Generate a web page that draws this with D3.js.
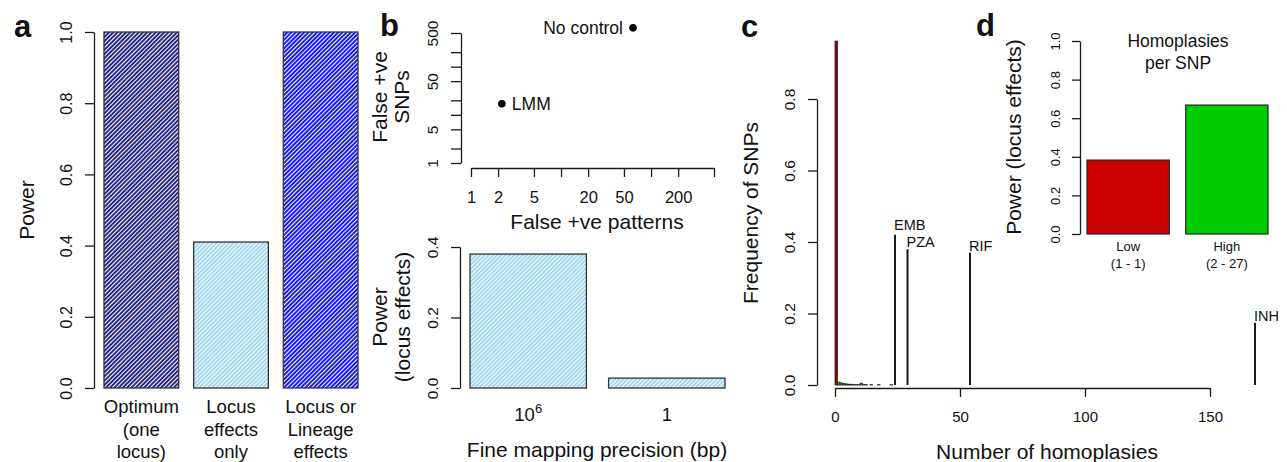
<!DOCTYPE html>
<html>
<head>
<meta charset="utf-8">
<script src="https://cdn.jsdelivr.net/npm/d3@7"></script>
<style>
body { margin:0; background:#fff; }
svg text { font-family: "Liberation Sans", Arial, sans-serif; fill:#111; }
</style>
</head>
<body>
<svg id="fig" width="1287" height="462"></svg>
<script>
// panel a
var aLabels = [["Optimum","(one","locus)"],["Locus","effects","only"],["Locus or","Lineage","effects"]];
var aPower = [1.0, 0.41, 1.0];
var aColors = ["#10107a","#87ceeb","#0000ff"];
var aTicks = [0,0.2,0.4,0.6,0.8,1.0];

// panel b (top)
var bMethods = ["No control","LMM"];
var bPatterns = [63, 2.2];
var bSnps = [640, 17];
var bLogTicks = [1,2,5,10,20,50,100,200,500];
var bXLabelled = [1,2,5,20,50,200];
var bYLabelled = [1,5,50,500];

// panel b (bottom)
var bPrecision = [["10","6"],["1",""]];
var bPower = [0.38, 0.028];
var bTicks = [0,0.2,0.4];

// panel c : frequency per bin of 1 homoplasy, starting at 0
var cBins = [0.962,0.008,0.006,0.004,0.003,0.002,0.002,0.001,0.001,0.001,0.005,0.001,0.001,0,0.001,0,0,0.001,0,0,0,0,0.001,0,0,0,0,0,0,0,0,0,0,0,0,0,0,0,0,0,0,0,0];
var cDrugs = ["EMB","PZA","RIF","INH"];
var cDrugHom = [24,29,54,168];
var cDrugFreq = [0.42,0.38,0.37,0.174];
var cXTicks = [0,50,100,150];
var cYTicks = [0,0.2,0.4,0.6,0.8];

// panel d
var dGroups = [["Low","(1 - 1)"],["High","(2 - 27)"]];
var dPower = [0.383, 0.668];
var dColors = ["#cd0000","#00cd00"];
var dTicks = [0,0.2,0.4,0.6,0.8,1.0];

var svg = d3.select("#fig");
var ink = "#1a1a1a";

var defs = svg.append("defs");
function hatch(id, color, w) {
    var p = defs.append("pattern")
        .attr("id", id)
        .attr("patternUnits", "userSpaceOnUse")
        .attr("width", 3).attr("height", 3)
        .attr("patternTransform", "rotate(45)");
    p.append("rect").attr("width", 3).attr("height", 3).attr("fill", "#fff");
    p.append("line").attr("x1", 1).attr("x2", 1).attr("y1", 0).attr("y2", 3)
        .attr("stroke", color).attr("stroke-width", w);
    return "url(#" + id + ")";
}

function styleAxis(g, fs) {
    g.attr("font-family", null).attr("font-size", null);
    g.selectAll("path, line").attr("stroke", ink).attr("stroke-width", 1.3);
    g.selectAll("text").style("font-size", fs + "px");
}
function rotateY(g, off) {
    g.selectAll(".tick text")
        .attr("transform", "rotate(-90)")
        .attr("x", 0).attr("y", -off).attr("dy", 0)
        .attr("text-anchor", "middle");
}
function vlabel(x, y, lines, fs, gap) {
    lines.forEach(function(t, i) {
        svg.append("text")
            .attr("transform", "translate(" + (x + i * gap) + "," + y + ") rotate(-90)")
            .attr("text-anchor", "middle")
            .style("font-size", fs + "px")
            .text(t);
    });
}
function letter(x, y, t) {
    svg.append("text").attr("x", x).attr("y", y)
        .style("font-size", "31px").style("font-weight", "bold").text(t);
}

// ---------- a ----------
var ay = d3.scaleLinear().domain([0, 1]).range([388, 32]);
var ax = d3.scaleBand().domain(d3.range(aPower.length)).range([104, 358]).paddingInner(1/6);

svg.selectAll(".abar")
    .data(aPower)
    .enter().append("rect")
    .attr("x", function(d, i) { return ax(i); })
    .attr("y", function(d) { return ay(d); })
    .attr("width", ax.bandwidth())
    .attr("height", function(d) { return ay(0) - ay(d); })
    .attr("fill", function(d, i) { return hatch("ha" + i, aColors[i], i == 1 ? 1.6 : 1.8); })
    .attr("stroke", "#333").attr("stroke-width", 1.3);

var gay = svg.append("g").attr("transform", "translate(94,0)")
    .call(d3.axisLeft(ay).tickValues(aTicks).tickSize(9).tickSizeOuter(0).tickFormat(d3.format(".1f")));
styleAxis(gay, 16);
rotateY(gay, 22);

aLabels.forEach(function(lines, i) {
    var t = svg.append("text").attr("text-anchor", "middle").style("font-size", "18.5px");
    lines.forEach(function(s, j) {
        t.append("tspan").attr("x", ax(i) + ax.bandwidth() / 2).attr("y", 413 + j * 22.5).text(s);
    });
});
vlabel(34, 210, ["Power"], 21, 0);
letter(14, 37, "a");

// ---------- b top ----------
var bx = d3.scaleLog().domain([1, 500]).range([471, 714]);
var by = d3.scaleLog().domain([1, 500]).range([163, 33]);

var gbx = svg.append("g").attr("transform", "translate(0,168)")
    .call(d3.axisBottom(bx).tickValues(bLogTicks).tickSize(9).tickSizeOuter(0)
        .tickFormat(function(d) { return bXLabelled.indexOf(d) >= 0 ? d : ""; }));
styleAxis(gbx, 16.5);
gbx.selectAll(".tick text").attr("y", 35).attr("dy", 0);

var gby = svg.append("g").attr("transform", "translate(461,0)")
    .call(d3.axisLeft(by).tickValues(bLogTicks).tickSize(10).tickSizeOuter(0)
        .tickFormat(function(d) { return bYLabelled.indexOf(d) >= 0 ? d : ""; }));
styleAxis(gby, 15.5);
rotateY(gby, 23);

svg.selectAll(".bpt")
    .data(bMethods)
    .enter().append("circle")
    .attr("cx", function(d, i) { return bx(bPatterns[i]); })
    .attr("cy", function(d, i) { return by(bSnps[i]); })
    .attr("r", 3.8)
    .attr("fill", "#000");

svg.selectAll(".blab")
    .data(bMethods)
    .enter().append("text")
    .attr("x", function(d, i) { return bx(bPatterns[i]) + (i == 0 ? -10 : 10); })
    .attr("y", function(d, i) { return by(bSnps[i]) + 6; })
    .attr("text-anchor", function(d, i) { return i == 0 ? "end" : "start"; })
    .style("font-size", "17.5px")
    .text(function(d) { return d; });

svg.append("text").attr("x", 597).attr("y", 229).attr("text-anchor", "middle")
    .style("font-size", "21px").text("False +ve patterns");
vlabel(387, 97, ["False +ve", "SNPs"], 21, 22);
letter(380, 36, "b");

// ---------- b bottom ----------
var by2 = d3.scaleLinear().domain([0, 0.4]).range([388, 247]);
var bx2 = d3.scaleBand().domain(d3.range(bPower.length)).range([470, 725]).paddingInner(0.16);

svg.selectAll(".bbar")
    .data(bPower)
    .enter().append("rect")
    .attr("x", function(d, i) { return bx2(i); })
    .attr("y", function(d) { return by2(d); })
    .attr("width", bx2.bandwidth())
    .attr("height", function(d) { return by2(0) - by2(d); })
    .attr("fill", hatch("hb", aColors[1], 1.6))
    .attr("stroke", "#333").attr("stroke-width", 1.3);

var gby2 = svg.append("g").attr("transform", "translate(460,0)")
    .call(d3.axisLeft(by2).tickValues(bTicks).tickSize(9).tickSizeOuter(0).tickFormat(d3.format(".1f")));
styleAxis(gby2, 15.5);
rotateY(gby2, 22);

bPrecision.forEach(function(p, i) {
    var t = svg.append("text").attr("x", bx2(i) + bx2.bandwidth() / 2).attr("y", 421)
        .attr("text-anchor", "middle").style("font-size", "18.5px");
    t.append("tspan").text(p[0]);
    if (p[1]) t.append("tspan").attr("dy", -8).style("font-size", "13px").text(p[1]);
});
svg.append("text").attr("x", 597).attr("y", 457).attr("text-anchor", "middle")
    .style("font-size", "21px").text("Fine mapping precision (bp)");
vlabel(387, 317, ["Power", "(locus effects)"], 21, 23);

// ---------- c ----------
var cx = d3.scaleLinear().domain([0, 150]).range([835, 1210]);
var cy = d3.scaleLinear().domain([0, 0.8]).range([385, 99]);

svg.selectAll(".cbin")
    .data(cBins)
    .enter().append("rect")
    .attr("x", function(d, i) { return cx(i); })
    .attr("y", function(d) { return cy(d); })
    .attr("width", cx(1) - cx(0))
    .attr("height", function(d) { return cy(0) - cy(d); })
    .attr("fill", function(d, i) { return i == 0 ? "#a00000" : dColors[1]; })
    .attr("stroke", "#222").attr("stroke-width", 0.8);

svg.selectAll(".cdrug")
    .data(cDrugs)
    .enter().append("line")
    .attr("x1", function(d, i) { return cx(cDrugHom[i]); })
    .attr("x2", function(d, i) { return cx(cDrugHom[i]); })
    .attr("y1", cy(0))
    .attr("y2", function(d, i) { return cy(cDrugFreq[i]); })
    .attr("stroke", ink).attr("stroke-width", 2);

svg.selectAll(".cdlab")
    .data(cDrugs)
    .enter().append("text")
    .attr("x", function(d, i) { return cx(cDrugHom[i]) - 1; })
    .attr("y", function(d, i) { return cy(cDrugFreq[i]) - (i == 0 ? 5 : 2); })
    .style("font-size", "14.5px")
    .text(function(d) { return d; });

var gcx = svg.append("g").attr("transform", "translate(0,388)")
    .call(d3.axisBottom(cx).tickValues(cXTicks).tickSize(9).tickSizeOuter(0));
styleAxis(gcx, 15);
gcx.selectAll(".tick text").attr("y", 34).attr("dy", 0);

var gcy = svg.append("g").attr("transform", "translate(817,0)")
    .call(d3.axisLeft(cy).tickValues(cYTicks).tickSize(9).tickSizeOuter(0).tickFormat(d3.format(".1f")));
styleAxis(gcy, 15.5);
rotateY(gcy, 22);

svg.append("text").attr("x", 1047).attr("y", 459).attr("text-anchor", "middle")
    .style("font-size", "21px").text("Number of homoplasies");
vlabel(758, 213, ["Frequency of SNPs"], 21, 0);
letter(741, 37, "c");

// ---------- d ----------
var dy = d3.scaleLinear().domain([0, 1]).range([234, 41]);
var dx = d3.scaleBand().domain(d3.range(dPower.length)).range([1087, 1268]).paddingInner(1/6);

svg.selectAll(".dbar")
    .data(dPower)
    .enter().append("rect")
    .attr("x", function(d, i) { return dx(i); })
    .attr("y", function(d) { return dy(d); })
    .attr("width", dx.bandwidth())
    .attr("height", function(d) { return dy(0) - dy(d); })
    .attr("fill", function(d, i) { return dColors[i]; })
    .attr("stroke", "#222").attr("stroke-width", 1.2);

var gdy = svg.append("g").attr("transform", "translate(1080,0)")
    .call(d3.axisLeft(dy).tickValues(dTicks).tickSize(8).tickSizeOuter(0).tickFormat(d3.format(".1f")));
styleAxis(gdy, 13);
rotateY(gdy, 20);

dGroups.forEach(function(lines, i) {
    var t = svg.append("text").attr("text-anchor", "middle").style("font-size", "13px");
    lines.forEach(function(s, j) {
        t.append("tspan").attr("x", dx(i) + dx.bandwidth() / 2).attr("y", 251 + j * 17).text(s);
    });
});
var dt = svg.append("text").attr("text-anchor", "middle").style("font-size", "17.5px");
dt.append("tspan").attr("x", 1178).attr("y", 47).text("Homoplasies");
dt.append("tspan").attr("x", 1178).attr("y", 69).text("per SNP");
vlabel(1021, 137, ["Power (locus effects)"], 21, 0);
letter(976, 36, "d");
</script>
</body>
</html>
